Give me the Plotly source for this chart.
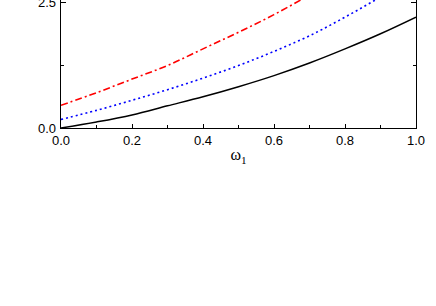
import plotly.graph_objects as go

omega = [0.0, 0.1, 0.2, 0.3, 0.4, 0.5, 0.6, 0.7, 0.8, 0.9, 1.0]
black_vals = [0.0, 0.12, 0.26, 0.44, 0.62, 0.82, 1.04, 1.29, 1.57, 1.87, 2.20]
blue_vals = [0.17, 0.35, 0.55, 0.76, 0.99, 1.24, 1.52, 1.83, 2.20, 2.60, 3.02]
red_vals = [0.45, 0.70, 0.97, 1.24, 1.57, 1.90, 2.25, 2.64, 3.06, 3.50, 4.00]
y_tick_vals = [0.0, 2.5]
y_tick_text = ["0.0", "2.5"]

fig = go.Figure()
fig.add_trace(go.Scatter(x=omega, y=black_vals, mode="lines",
                         line=dict(color="black", width=1.5, shape="spline")))
fig.add_trace(go.Scatter(x=omega, y=blue_vals, mode="lines",
                         line=dict(color="blue", width=1.6, dash="2px,3px", shape="spline")))
fig.add_trace(go.Scatter(x=omega, y=red_vals, mode="lines",
                         line=dict(color="red", width=1.6, dash="7px,3px,2px,3px", shape="spline")))

fig.update_layout(
    width=436, height=306,
    margin=dict(l=61, r=20, t=0, b=178, autoexpand=False),
    paper_bgcolor="white", plot_bgcolor="white",
    showlegend=False,
    font=dict(family="Liberation Sans, Arial", size=13, color="black"),
)
fig.update_xaxes(
    range=[0, 1], tickvals=[0, 0.2, 0.4, 0.6, 0.8, 1.0],
    ticktext=["0.0", "0.2", "0.4", "0.6", "0.8", "1.0"],
    ticks="inside", ticklen=4, tickcolor="black",
    minor=dict(ticks="inside", ticklen=3, dtick=0.1, tickcolor="black"),
    showline=True, linecolor="black", linewidth=1, mirror=False,
    showgrid=False, zeroline=False, automargin=False,
    title=dict(text="ω<sub>1</sub>", font=dict(family="Liberation Serif", size=16), standoff=2),
)
fig.update_yaxes(
    range=[0, 2.54], tickvals=y_tick_vals, ticktext=["", ""],
    ticks="inside", ticklen=5, tickcolor="black",
    minor=dict(ticks="inside", ticklen=3, tickvals=[1.25], tickcolor="black"),
    showline=True, linecolor="black", linewidth=1, mirror="ticks",
    showgrid=False, zeroline=False, automargin=False,
)
for v, t in zip(y_tick_vals, y_tick_text):
    fig.add_annotation(x=0, xref="paper", y=v, yref="y", text=t, showarrow=False,
                       xanchor="right", yanchor="middle", xshift=-3,
                       font=dict(family="Liberation Sans, Arial", size=13, color="black"))
fig.write_html("out.html", post_script="document.body.style.margin='0px';",
               config={"displayModeBar": False})
